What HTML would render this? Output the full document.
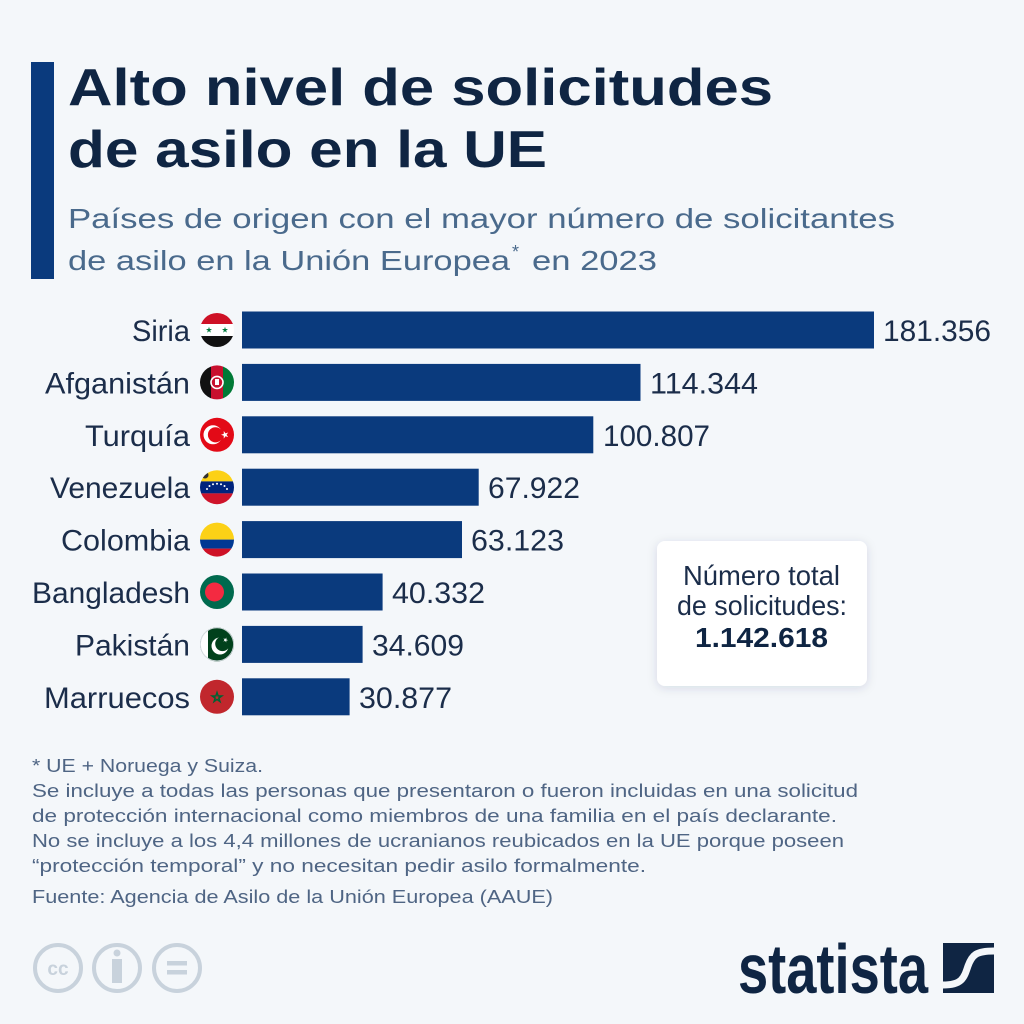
<!DOCTYPE html>
<html><head><meta charset="utf-8"><style>
html,body{margin:0;padding:0;background:#f4f7fa;}
svg{display:block;}
text{font-family:"Liberation Sans",Arial,sans-serif;}
</style></head><body>
<svg width="1024" height="1024" viewBox="0 0 1024 1024" xmlns="http://www.w3.org/2000/svg">
<defs>
<path id="star" d="M0,-1 L0.2245,-0.309 L0.951,-0.309 L0.363,0.118 L0.588,0.809 L0,0.382 L-0.588,0.809 L-0.363,0.118 L-0.951,-0.309 L-0.2245,-0.309 Z"/>
<filter id="sh" x="-20%" y="-20%" width="140%" height="140%"><feDropShadow dx="0" dy="2" stdDeviation="5" flood-color="#1a2f50" flood-opacity="0.13"/></filter>
<clipPath id="c0"><circle cx="217" cy="330" r="17"/></clipPath>
<clipPath id="c1"><circle cx="217" cy="382.4" r="17"/></clipPath>
<clipPath id="c2"><circle cx="217" cy="434.8" r="17"/></clipPath>
<clipPath id="c3"><circle cx="217" cy="487.2" r="17"/></clipPath>
<clipPath id="c4"><circle cx="217" cy="539.6" r="17"/></clipPath>
<clipPath id="c5"><circle cx="217" cy="592" r="17"/></clipPath>
<clipPath id="c6"><circle cx="217" cy="644.4" r="17"/></clipPath>
<clipPath id="c7"><circle cx="217" cy="696.8" r="17"/></clipPath>
</defs>
<rect width="1024" height="1024" fill="#f4f7fa"/>

<!-- accent bar -->
<rect x="31" y="62" width="23" height="217" fill="#0a3a7d"/>

<!-- title -->
<text x="68" y="105" font-size="52" font-weight="bold" fill="#0f2543" textLength="705" lengthAdjust="spacingAndGlyphs">Alto nivel de solicitudes</text>
<text x="68" y="167" font-size="52" font-weight="bold" fill="#0f2543" textLength="479" lengthAdjust="spacingAndGlyphs">de asilo en la UE</text>

<!-- subtitle -->
<text x="68" y="228" font-size="28" fill="#4a6a8c" textLength="827" lengthAdjust="spacingAndGlyphs">Países de origen con el mayor número de solicitantes</text>
<text x="68" y="270" font-size="28" fill="#4a6a8c" textLength="442" lengthAdjust="spacingAndGlyphs">de asilo en la Unión Europea</text>
<text x="512" y="258" font-size="18" fill="#4a6a8c">*</text>
<text x="532" y="270" font-size="28" fill="#4a6a8c" textLength="125" lengthAdjust="spacingAndGlyphs">en 2023</text>

<!-- bars -->
<g fill="#0a3a7d">
<rect x="242" y="311.5" width="632" height="37"/>
<rect x="242" y="363.9" width="398.5" height="37"/>
<rect x="242" y="416.3" width="351.3" height="37"/>
<rect x="242" y="468.7" width="236.7" height="37"/>
<rect x="242" y="521.1" width="220" height="37"/>
<rect x="242" y="573.5" width="140.6" height="37"/>
<rect x="242" y="625.9" width="120.6" height="37"/>
<rect x="242" y="678.3" width="107.6" height="37"/>
</g>

<!-- country labels -->
<g font-size="30" fill="#1b2d4a">
<text x="132" y="341" textLength="58" lengthAdjust="spacingAndGlyphs">Siria</text>
<text x="45" y="393.4" textLength="145" lengthAdjust="spacingAndGlyphs">Afganistán</text>
<text x="85" y="445.8" textLength="105" lengthAdjust="spacingAndGlyphs">Turquía</text>
<text x="50" y="498.2" textLength="140" lengthAdjust="spacingAndGlyphs">Venezuela</text>
<text x="61" y="550.6" textLength="129" lengthAdjust="spacingAndGlyphs">Colombia</text>
<text x="32" y="603" textLength="158" lengthAdjust="spacingAndGlyphs">Bangladesh</text>
<text x="75" y="655.4" textLength="115" lengthAdjust="spacingAndGlyphs">Pakistán</text>
<text x="44" y="707.8" textLength="146" lengthAdjust="spacingAndGlyphs">Marruecos</text>
</g>

<!-- values -->
<g font-size="30" fill="#1b2d4a">
<text x="883" y="341" textLength="108" lengthAdjust="spacingAndGlyphs">181.356</text>
<text x="650" y="393.4" textLength="108" lengthAdjust="spacingAndGlyphs">114.344</text>
<text x="603" y="445.8" textLength="107" lengthAdjust="spacingAndGlyphs">100.807</text>
<text x="488" y="498.2" textLength="92" lengthAdjust="spacingAndGlyphs">67.922</text>
<text x="471" y="550.6" textLength="93" lengthAdjust="spacingAndGlyphs">63.123</text>
<text x="392" y="603" textLength="93" lengthAdjust="spacingAndGlyphs">40.332</text>
<text x="372" y="655.4" textLength="92" lengthAdjust="spacingAndGlyphs">34.609</text>
<text x="359" y="707.8" textLength="93" lengthAdjust="spacingAndGlyphs">30.877</text>
</g>

<!-- flags -->
<!-- Syria -->
<g clip-path="url(#c0)">
<rect x="199" y="312" width="36" height="12" fill="#ce1126"/>
<rect x="199" y="324" width="36" height="12" fill="#ffffff"/>
<rect x="199" y="336" width="36" height="12" fill="#111111"/>
<use href="#star" transform="translate(209,330) scale(3.2)" fill="#007a3d"/>
<use href="#star" transform="translate(225,330) scale(3.2)" fill="#007a3d"/>
</g>
<!-- Afghanistan -->
<g clip-path="url(#c1)">
<rect x="199" y="364" width="12" height="37" fill="#111111"/>
<rect x="211" y="364" width="12" height="37" fill="#c8102e"/>
<rect x="223" y="364" width="12" height="37" fill="#007a36"/>
<circle cx="217" cy="382.4" r="6" fill="none" stroke="#ffffff" stroke-width="1.6"/>
<rect x="215" y="379" width="4" height="6" fill="#ffffff"/>
</g>
<!-- Turkey -->
<g clip-path="url(#c2)">
<rect x="199" y="417" width="36" height="36" fill="#e30a17"/>
<circle cx="213" cy="434.8" r="9.5" fill="#ffffff"/>
<circle cx="215.5" cy="434.8" r="7.6" fill="#e30a17"/>
<use href="#star" transform="translate(225,434.8) rotate(-18) scale(4)" fill="#ffffff"/>
</g>
<!-- Venezuela -->
<g clip-path="url(#c3)">
<rect x="199" y="469" width="36" height="12.4" fill="#fcd116"/>
<rect x="199" y="481.4" width="36" height="12" fill="#00247d"/>
<rect x="199" y="493.4" width="36" height="12" fill="#cf142b"/>
<circle cx="205" cy="475" r="3.5" fill="#333" />
<g fill="#ffffff">
<circle cx="207" cy="489" r="1"/><circle cx="209.5" cy="486" r="1"/><circle cx="213" cy="484.3" r="1"/><circle cx="217" cy="483.8" r="1"/><circle cx="221" cy="484.3" r="1"/><circle cx="224.5" cy="486" r="1"/><circle cx="227" cy="489" r="1"/>
</g>
</g>
<!-- Colombia -->
<g clip-path="url(#c4)">
<rect x="199" y="521" width="36" height="18.6" fill="#fcd116"/>
<rect x="199" y="539.6" width="36" height="9" fill="#003893"/>
<rect x="199" y="548.6" width="36" height="10" fill="#ce1126"/>
</g>
<!-- Bangladesh -->
<g clip-path="url(#c5)">
<rect x="199" y="574" width="36" height="36" fill="#006a4e"/>
<circle cx="214.5" cy="592" r="9.5" fill="#f42a41"/>
</g>
<!-- Pakistan -->
<g clip-path="url(#c6)">
<rect x="199" y="626" width="36" height="37" fill="#01411c"/>
<rect x="199" y="626" width="9" height="37" fill="#ffffff"/>
<circle cx="220" cy="646" r="8.5" fill="#ffffff"/>
<circle cx="222.5" cy="643.8" r="7.3" fill="#01411c"/>
<use href="#star" transform="translate(225.5,640) rotate(20) scale(2.6)" fill="#ffffff"/>
</g>
<circle cx="217" cy="644.4" r="16.5" fill="none" stroke="#d8dde3" stroke-width="0.8"/>
<!-- Morocco -->
<g clip-path="url(#c7)">
<rect x="199" y="679" width="36" height="36" fill="#c1272d"/>
<use href="#star" transform="translate(217,697.5) scale(5)" fill="none" stroke="#006233" stroke-width="0.3"/>
</g>

<!-- info box -->
<rect x="657" y="541" width="210" height="145" rx="8" ry="8" fill="#ffffff" filter="url(#sh)"/>
<text x="683" y="585" font-size="28" fill="#1b2d4a" textLength="157" lengthAdjust="spacingAndGlyphs">Número total</text>
<text x="677" y="615" font-size="28" fill="#1b2d4a" textLength="170" lengthAdjust="spacingAndGlyphs">de solicitudes:</text>
<text x="695" y="647" font-size="28" font-weight="bold" fill="#0f2543" textLength="133" lengthAdjust="spacingAndGlyphs">1.142.618</text>

<!-- footnotes -->
<g font-size="18.5" fill="#4f6584">
<text x="32" y="772" textLength="231" lengthAdjust="spacingAndGlyphs">* UE + Noruega y Suiza.</text>
<text x="32" y="797" textLength="826" lengthAdjust="spacingAndGlyphs">Se incluye a todas las personas que presentaron o fueron incluidas en una solicitud</text>
<text x="32" y="822" textLength="805" lengthAdjust="spacingAndGlyphs">de protección internacional como miembros de una familia en el país declarante.</text>
<text x="32" y="847" textLength="812" lengthAdjust="spacingAndGlyphs">No se incluye a los 4,4 millones de ucranianos reubicados en la UE porque poseen</text>
<text x="32" y="872" textLength="614" lengthAdjust="spacingAndGlyphs">“protección temporal” y no necesitan pedir asilo formalmente.</text>
<text x="32" y="903" textLength="521" lengthAdjust="spacingAndGlyphs">Fuente: Agencia de Asilo de la Unión Europea (AAUE)</text>
</g>

<!-- CC icons -->
<g fill="none" stroke="#c8d2dc" stroke-width="4">
<circle cx="58" cy="968" r="23"/>
<circle cx="117" cy="968" r="23"/>
<circle cx="177" cy="968" r="23"/>
</g>
<text x="58" y="975" font-size="19" font-weight="bold" fill="#c8d2dc" text-anchor="middle">cc</text>
<circle cx="117" cy="953" r="3.5" fill="#c8d2dc"/>
<rect x="112" y="959" width="10" height="24" fill="#c8d2dc"/>
<rect x="167" y="961" width="20" height="4.5" fill="#c8d2dc"/>
<rect x="167" y="970" width="20" height="4.5" fill="#c8d2dc"/>

<!-- statista logo -->
<text x="738" y="993" font-size="70" font-weight="bold" fill="#0f2543" textLength="190" lengthAdjust="spacingAndGlyphs">statista</text>
<rect x="943" y="943" width="51" height="50" fill="#0f2543"/>
<path d="M943,985 C962,985 964,978 968,966 C972,955 976,951 994,951" fill="none" stroke="#f4f7fa" stroke-width="7"/>
</svg>
</body></html>
